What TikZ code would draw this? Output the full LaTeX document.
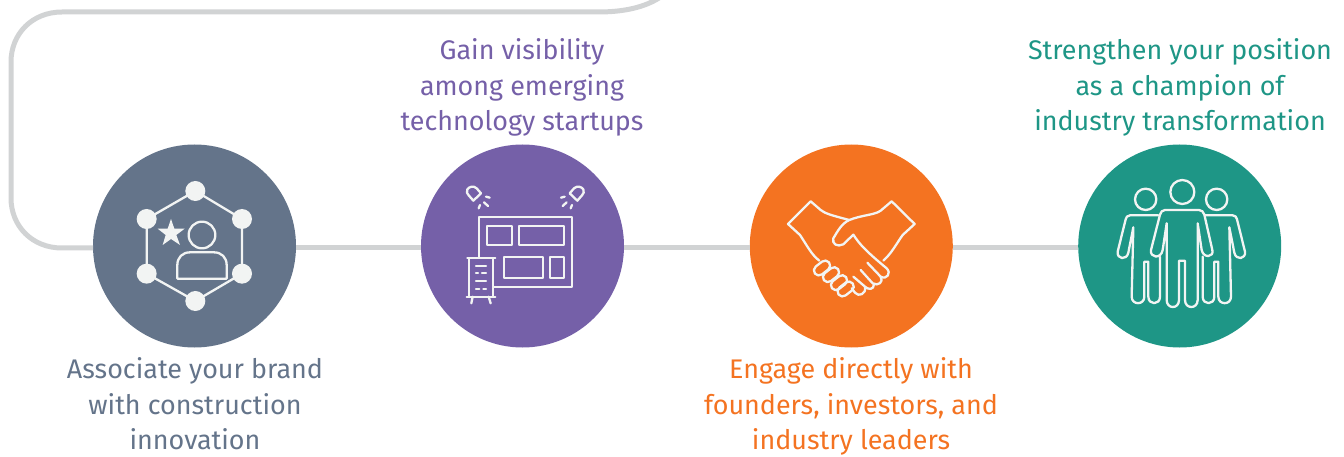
\documentclass[tikz,border=0pt]{standalone}
\usepackage{fontspec}
\setmainfont{Fira Sans}
\definecolor{slateC}{HTML}{64748A}
\definecolor{purpleC}{HTML}{7560A8}
\definecolor{orangeC}{HTML}{F47321}
\definecolor{tealC}{HTML}{1E9686}
\definecolor{lineC}{HTML}{D1D3D4}
\definecolor{iconC}{HTML}{F2F4F3}
\tikzset{
  disc/.style={circle,minimum size=203pt,inner sep=0pt,outer sep=0pt,fill=#1},
  label/.style={align=center,inner sep=0pt,text=#1,font=\fontsize{26.9}{35.5}\selectfont},
  conn/.style={draw=lineC,line width=5pt},
  icon/.style={draw=iconC,line width=2.3pt,line join=round,line cap=round},
  zoomed/.style={x=.33333pt,y=-.33333pt},
}
\begin{document}
\begin{tikzpicture}[x=1pt,y=-1pt]
\useasboundingbox (0,0) rectangle (1344,457);
\node[disc=slateC] (c1) at (194.5,246) {};
\node[disc=purpleC] (c2) at (522.5,246) {};
\node[disc=orangeC] (c3) at (851.3,246) {};
\node[disc=tealC] (c4) at (1179.7,246) {};
\coordinate (topend) at (662,-4);
% connectors
\path[conn] ([yshift=-2pt]c1.west) -- (62,248) .. controls (32,248) and (11,226) .. (11,198) -- (11,62) .. controls (11,34) and (32,12) .. (62,12) -- (598,12) .. controls (622,12) and (645,8) .. (topend);
\path[conn] ([yshift=-2pt]c1.east) -- ([yshift=-2pt]c2.west);
\path[conn] ([yshift=-2pt]c2.east) -- ([yshift=-2pt]c3.west);
\path[conn] ([yshift=-2pt]c3.east) -- ([yshift=-2pt]c4.west);
% labels
\node[label=slateC] (t1) at (195,404) {Associate your brand\\with construction\\innovation};
\node[label=purpleC] (t2) at (522,87.5) {Gain visibility\\among emerging\\technology startups};
\node[label=orangeC] (t3) at (851,406.5) {Engage directly with\\founders, investors, and\\industry leaders};
\node[label=tealC] (t4) at (1180,87.5) {Strengthen your position\\as a champion of\\industry transformation};
% icon 1
\begin{scope}[xshift=90pt,yshift=-140pt,zoomed]
\draw[icon] (316,153) -- (456,237) -- (456,401) -- (316,483) -- (170,401) -- (170,237) -- cycle;
\foreach \p in {(316,153),(456,237),(456,401),(316,483),(170,401),(170,237)} \fill[iconC] \p circle (30);
\fill[iconC] (243,237) -- (253,266) -- (284,266) -- (259,285) -- (270,315) -- (243,297) -- (218,315) -- (227,285) -- (203,266) -- (233,266) -- cycle;
\draw[icon] (336,285) circle (40);
\draw[icon] (262,416) -- (262,375) .. controls (262,352) and (278,337) .. (300,337) -- (372,337) .. controls (394,337) and (410,352) .. (410,375) -- (410,416) -- cycle;
\end{scope}
% icon 2
\begin{scope}[xshift=420pt,yshift=-140pt,zoomed]
\draw[icon] (178,352) -- (178,230) -- (455,230) -- (455,441) -- (220,441);
\draw[icon] (200,258) rectangle (276,315);
\draw[icon] (298,258) rectangle (433,315);
\draw[icon] (252,350) rectangle (369,413);
\draw[icon] (390,350) rectangle (433,413);
\draw[icon] (142,355) -- (226,355);
\draw[icon] (148,355) -- (148,470);
\draw[icon] (218,355) -- (218,470);
\draw[icon] (140,470) -- (226,470);
\draw[icon] (158,470) -- (154,490);
\draw[icon] (206,470) -- (212,490);
\draw[icon] (168,378) -- (198,378);
\draw[icon] (168,400) -- (174,400) (186,400) -- (198,400);
\draw[icon] (168,424) -- (198,424);
\draw[icon] (168,446) -- (178,446) (190,446) -- (198,446);
\draw[icon] (160,182) -- (183,160) -- (170,145) .. controls (160,136) and (148,140) .. (142,148) .. controls (138,155) and (142,162) .. (146,166) -- cycle;
\draw[icon] (472,182) -- (449,160) -- (462,145) .. controls (472,136) and (484,140) .. (490,148) .. controls (494,155) and (490,162) .. (486,166) -- cycle;
\draw[icon] (176,205) -- (180,195) (192,187) -- (204,198) (198,170) -- (209,173);
\draw[icon] (452,205) -- (456,195) (428,198) -- (440,187) (423,173) -- (434,170);
\end{scope}
% icon 3
\begin{scope}[xshift=750pt,yshift=-140pt,zoomed]
\draw[icon] (208,362) .. controls (185,345) and (170,315) .. (150,285) -- (114,252) -- (182,184) -- (212,210) .. controls (225,220) and (240,225) .. (298,240);
\draw[icon] (400,362) .. controls (425,340) and (440,310) .. (458,285) -- (494,252) -- (425,184) -- (392,212) .. controls (375,225) and (335,225) .. (298,240) .. controls (275,250) and (262,275) .. (250,295) .. controls (245,312) and (262,322) .. (280,313) -- (310,284) .. controls (330,315) and (350,335) .. (410,385) .. controls (425,400) and (410,420) .. (392,410) -- (352,368);
\draw[icon] (392,410) .. controls (402,425) and (385,440) .. (368,430) -- (332,390);
\draw[icon] (372,432) .. controls (372,450) and (355,450) .. (345,440) -- (310,410);
\draw[icon] (345,440) .. controls (350,462) and (325,472) .. (315,458) -- (305,445);
\foreach \cx/\cy in {216/384,243/404,267/428,287/447}
  \draw[icon,rounded corners=5pt,shift={(\cx,\cy)},rotate=38] (-27,-15) rectangle (27,15);
\end{scope}
% icon 4
\begin{scope}[xshift=1075pt,yshift=-140pt,zoomed]
\def\sideman{(250,226) -- (165,226) .. controls (157,226) and (153,232) .. (152,238) -- (128,335) .. controls (125,358) and (155,362) .. (160,338) -- (175,262) -- (170,470) .. controls (170,496) and (208,496) .. (208,470) -- (208,365) -- (220,365) -- (220,470) .. controls (220,496) and (255,496) .. (255,470) -- (255,350)}
\draw[icon] (212,178) circle (32);
\draw[icon] (425,178) circle (32);
\draw[icon] \sideman;
\begin{scope}[shift={(638,0)},xscale=-1]
\draw[icon] \sideman;
\end{scope}
\draw[icon] (322,156) circle (36);
\draw[icon,fill=tealC] (270,210) .. controls (262,210) and (257,216) .. (255,224) -- (228,330) .. controls (224,354) and (258,358) .. (263,330) -- (275,250) -- (275,480) .. controls (275,508) and (312,508) .. (312,480) -- (312,362) -- (330,362) -- (330,480) .. controls (330,508) and (368,508) .. (368,480) -- (368,250) -- (380,330) .. controls (385,356) and (418,352) .. (412,330) -- (388,224) .. controls (386,216) and (380,210) .. (372,210) -- cycle;
\end{scope}
\end{tikzpicture}
\end{document}
